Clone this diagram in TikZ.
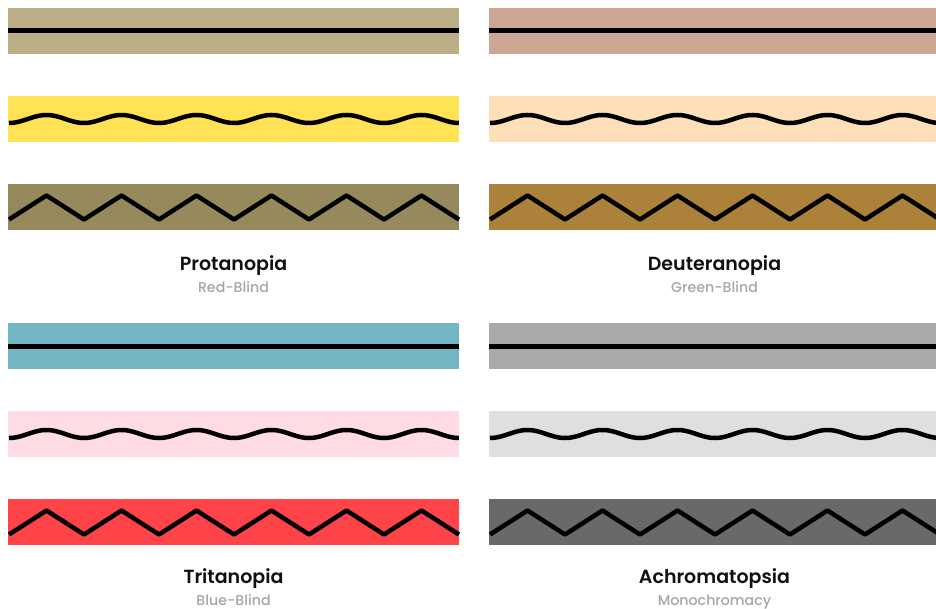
\documentclass[tikz,border=0pt]{standalone}
\usepackage{fontspec}
\setmainfont{Poppins}
\newfontfamily\ttlfont{Poppins SemiBold}
\newfontfamily\subfont{Poppins Medium}
\definecolor{pA}{HTML}{BCAE86}
\definecolor{pB}{HTML}{FFE354}
\definecolor{pC}{HTML}{968A5D}
\definecolor{dA}{HTML}{CAA693}
\definecolor{dB}{HTML}{FFDFB8}
\definecolor{dC}{HTML}{AC8139}
\definecolor{tA}{HTML}{73B6C4}
\definecolor{tB}{HTML}{FFDBE3}
\definecolor{tC}{HTML}{FF4449}
\definecolor{aA}{HTML}{A9A9A9}
\definecolor{aB}{HTML}{DFDFDF}
\definecolor{aC}{HTML}{696969}
\definecolor{titleink}{HTML}{111111}
\definecolor{subink}{HTML}{A6A6A6}
\tikzset{
  stroke/.style={line width=4.5pt, black, line join=round},
  flatline/.style={line width=5pt, black},
  ttl/.style={font=\ttlfont\fontsize{19}{22}\selectfont, text=titleink, anchor=base, inner sep=0pt},
  subttl/.style={font=\subfont\fontsize{14.2}{17}\selectfont, text=subink, anchor=base, inner sep=0pt},
}
% #1 x offset, #2 y offset, #3-#5 colours, #6 title, #7 subtitle, #8 name, #9 title baseline
\newcommand\drawpanel[9]{%
  \fill[#3] ({#1+8},{#2+8}) rectangle ({#1+459},{#2+54});
  \fill[#4] ({#1+8},{#2+96}) rectangle ({#1+459},{#2+142});
  \fill[#5] ({#1+8},{#2+184}) rectangle ({#1+459},{#2+230});
  \draw[flatline] ({#1+8},{#2+31}) -- ({#1+459},{#2+31});
  \draw[stroke] plot[domain=0:6, samples=241, smooth] ({#1+9+75*\x},{#2+119+4*cos(360*\x)});
  \draw[stroke] plot[domain=0:12, samples=13] ({#1+9+37.5*\x},{#2+207.5+12*cos(180*\x)});
  \node[ttl] (#8-title) at ({#1+233.5},{#9}) {#6};
  \node[subttl] (#8-sub) at ({#1+233.5},{#9+22}) {#7};
}
\begin{document}
\begin{tikzpicture}[x=1pt,y=-1pt]
\useasboundingbox (0,0) rectangle (936,609);
\fill[white] (0,0) rectangle (936,609);
\clip (0,0) rectangle (936,609);
\drawpanel{0}{0}{pA}{pB}{pC}{Protanopia}{Red-Blind}{prot}{271}
\drawpanel{481}{0}{dA}{dB}{dC}{Deuteranopia}{Green-Blind}{deut}{271}
\drawpanel{0}{315}{tA}{tB}{tC}{Tritanopia}{Blue-Blind}{trit}{583}
\drawpanel{481}{315}{aA}{aB}{aC}{Achromatopsia}{Monochromacy}{achr}{583}
\end{tikzpicture}
\end{document}
